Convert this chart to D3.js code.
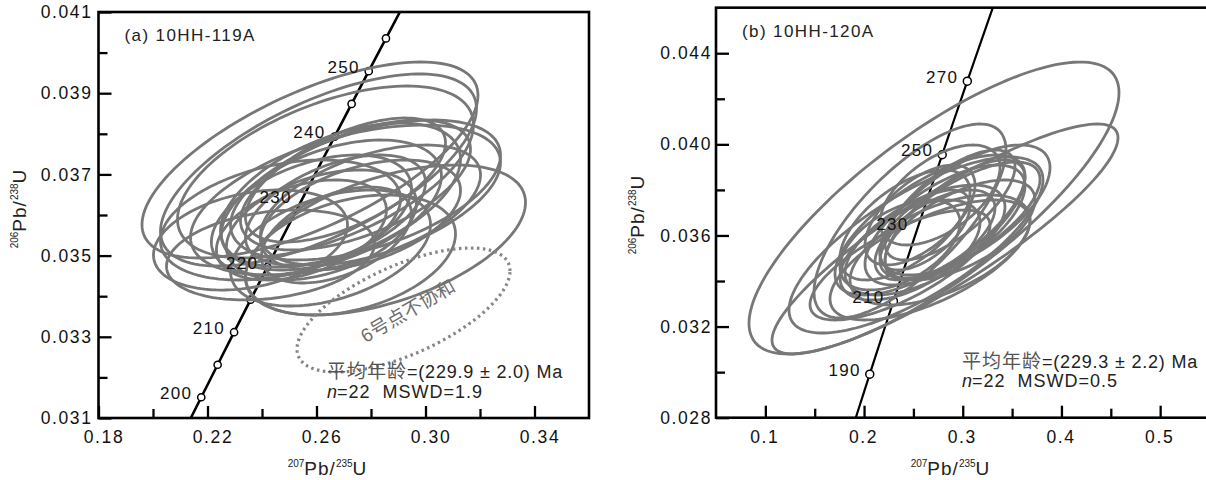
<!DOCTYPE html>
<html><head><meta charset="utf-8">
<script src="https://cdn.jsdelivr.net/npm/d3@7"></script>
<style>
body{margin:0;background:#fff;}
svg{display:block;}
text{font-family:"Liberation Sans",Arial,"Noto Sans CJK SC",sans-serif;}
</style></head><body>
<svg id="c" width="1206" height="480"></svg>
<script>
// ---- Concordia reference curve (age in Ma, 207Pb/235U, 206Pb/238U) ----
const concAge = [175,180,185,190,195,200,205,210,215,220,225,230,235,240,245,250,255,260,265,270,275,280,285,290,295];
const concX = [0.18809,0.19396,0.19985,0.20577,0.21173,0.21771,0.22372,0.22976,0.23583,0.24193,0.24806,0.25422,0.26041,0.26664,0.27289,0.27917,0.28549,0.29183,0.29821,0.30462,0.31106,0.31753,0.32403,0.33057,0.33714];
const concY = [0.027519,0.028316,0.029114,0.029912,0.030712,0.031511,0.032312,0.033113,0.033914,0.034717,0.035519,0.036323,0.037127,0.037932,0.038737,0.039543,0.040350,0.041157,0.041965,0.042773,0.043582,0.044392,0.045203,0.046014,0.046825];

// ---- Panel (a) 10HH-119A ----
const aTitle = "(a) 10HH-119A";
const aXMajor = [0.18,0.22,0.26,0.30,0.34];
const aXMajorLabels = ["0.18","0.22","0.26","0.30","0.34"];
const aXMinor = [0.20,0.24,0.28,0.32];
const aYMajor = [0.031,0.033,0.035,0.037,0.039,0.041];
const aYMajorLabels = ["0.031","0.033","0.035","0.037","0.039","0.041"];
const aYMinor = [0.032,0.034,0.036,0.038,0.040];
const aMarkAges = [200,205,210,215,220,240,245,250,255];   // visible age markers
const aLabelAges = [200,210,220,230,240,250];
const aCx  = [0.25761,0.26073,0.26330,0.27064,0.28532,0.23578,0.24312,0.27248,0.26514,0.27798,0.27431,0.26881,0.26547,0.25813,0.26697,0.26180,0.25446,0.27615,0.27064,0.24679,0.27982,0.26730];
const aCy  = [0.037355,0.037108,0.037059,0.036369,0.035384,0.035384,0.035015,0.035015,0.035187,0.036616,0.036739,0.036493,0.036246,0.036000,0.036123,0.035754,0.035631,0.036000,0.036862,0.035877,0.036246,0.035507];
const aSx  = [0.06165,0.05798,0.05431,0.05688,0.05138,0.03560,0.03817,0.03853,0.03670,0.04954,0.04220,0.04404,0.04037,0.03670,0.03303,0.03486,0.03119,0.03670,0.03670,0.04404,0.04037,0.02752];
const aSy  = [0.002414,0.002365,0.002118,0.001847,0.001847,0.001232,0.001108,0.001478,0.001429,0.001724,0.001601,0.001773,0.001601,0.001478,0.001355,0.001355,0.001232,0.001355,0.001527,0.001478,0.001478,0.001182];
const aRho = [0.66,0.64,0.55,0.50,0.50,0.30,0.25,0.35,0.40,0.50,0.55,0.50,0.45,0.45,0.50,0.40,0.40,0.45,0.60,0.35,0.50,0.45];
// discordant spot 6 (dotted)
const aRejCx = [0.29193], aRejCy = [0.03366], aRejSx = [0.03908], aRejSy = [0.001527], aRejRho = [0.63];
const aRejText = "6号点不协和";
const aStat1 = ["平均年龄", "=(229.9 ± 2.0) Ma"];
const aStat2 = ["n", "=22  MSWD=1.9"];

// ---- Panel (b) 10HH-120A ----
const bTitle = "(b) 10HH-120A";
const bXMajor = [0.1,0.2,0.3,0.4,0.5];
const bXMajorLabels = ["0.1","0.2","0.3","0.4","0.5"];
const bXMinor = [0.15,0.25,0.35,0.45];
const bYMajor = [0.028,0.032,0.036,0.040,0.044];
const bYMajorLabels = ["0.028","0.032","0.036","0.040","0.044"];
const bYMinor = [0.030,0.034,0.038,0.042];
const bMarkAges = [190,210,250,270];   // visible age markers
const bLabelAges = [190,210,230,250,270];
const bCx  = [0.27087,0.28202,0.25263,0.24656,0.26682,0.28202,0.26175,0.29215,0.24656,0.27188,0.29721,0.23642,0.27695,0.28708,0.25669,0.30228,0.24149,0.26682,0.27695,0.26175,0.29721,0.23642];
const bCy  = [0.037205,0.035845,0.035581,0.036635,0.036459,0.036459,0.035801,0.036679,0.035362,0.036020,0.036240,0.035581,0.035362,0.037337,0.036898,0.037118,0.036459,0.034923,0.037776,0.036240,0.036679,0.034703];
const bSx  = [0.18744,0.17528,0.12867,0.09726,0.09625,0.08105,0.08105,0.07092,0.07092,0.06079,0.07599,0.06079,0.09119,0.06586,0.05572,0.08612,0.06586,0.10132,0.06079,0.04559,0.08105,0.09119];
const bSy  = [0.006409,0.005048,0.003863,0.004258,0.003073,0.002634,0.002414,0.002634,0.002195,0.001975,0.002195,0.001975,0.002414,0.002414,0.002195,0.002853,0.002414,0.002634,0.002195,0.001756,0.002546,0.002414];
const bRho = [0.79,0.88,0.74,0.73,0.70,0.65,0.60,0.70,0.55,0.60,0.60,0.50,0.55,0.70,0.60,0.65,0.60,0.65,0.55,0.60,0.70,0.72];
const bStat1 = ["平均年龄", "=(229.3 ± 2.2) Ma"];
const bStat2 = ["n", "=22  MSWD=0.5"];

// ---------------------------------------------------------------
const svg = d3.select("#c");
const ELL = "#777777";
const N = 140;

function panel(o){
  const g = svg.append("g");
  const x = d3.scaleLinear().domain(o.xd).range(o.xr);
  const y = d3.scaleLinear().domain(o.yd).range(o.yr);
  const clipId = "clip" + o.id;
  svg.append("clipPath").attr("id", clipId).append("rect")
    .attr("x", o.xr[0]).attr("y", o.yr[1]).attr("width", o.xr[1]-o.xr[0]).attr("height", o.yr[0]-o.yr[1]);
  const plot = g.append("g").attr("clip-path", `url(#${clipId})`);

  // concordia
  const line = d3.line().x(d => x(d[0])).y(d => y(d[1]));
  const pts = concAge.map((a,i) => [concX[i], concY[i]]);
  plot.append("path").attr("d", line(pts)).attr("fill","none").attr("stroke","#000").attr("stroke-width", o.cw);
  const markers = o.marks.map(a => concAge.indexOf(a));
  plot.selectAll("circle.m").data(markers).join("circle")
    .attr("cx", i => x(concX[i])).attr("cy", i => y(concY[i])).attr("r", o.mr)
    .attr("fill","#fff").attr("stroke","#000").attr("stroke-width",1.5);

  // ellipses
  const ell = (cx,cy,sx,sy,r) => {
    const q = Math.sqrt(1 - r*r);
    const arr = d3.range(N).map(k => {
      const t = 2*Math.PI*k/N;
      return [cx + sx*Math.cos(t), cy + sy*(r*Math.cos(t) + q*Math.sin(t))];
    });
    return d3.line().x(d => x(d[0])).y(d => y(d[1])).curve(d3.curveLinearClosed)(arr);
  };
  o.cx.forEach((c,i) => {
    plot.append("path").attr("d", ell(c, o.cy[i], o.sx[i], o.sy[i], o.rho[i]))
      .attr("fill","none").attr("stroke", ELL).attr("stroke-width", 2.8);
  });
  if (o.rej) {
    o.rej.cx.forEach((c,i) => {
      plot.append("path").attr("d", ell(c, o.rej.cy[i], o.rej.sx[i], o.rej.sy[i], o.rej.rho[i]))
        .attr("fill","none").attr("stroke", "#858585").attr("stroke-width", 3.2)
        .attr("stroke-dasharray","2.5,3.5");
    });
  }

  // age labels
  o.labels.forEach(a => {
    const i = concAge.indexOf(a);
    g.append("text").attr("x", x(concX[i]) - 9).attr("y", y(concY[i]) + 1.5)
      .attr("text-anchor","end").attr("font-size", 17).attr("letter-spacing", 1.3)
      .attr("fill","#111").text(a);
  });

  // frame
  g.append("rect").attr("x", o.xr[0]).attr("y", o.yr[1]).attr("width", o.xr[1]-o.xr[0]).attr("height", o.yr[0]-o.yr[1])
    .attr("fill","none").attr("stroke","#000").attr("stroke-width", 2.6);

  // axes
  const ax = g.append("g").attr("transform", `translate(0,${o.yr[0]})`)
    .call(d3.axisBottom(x).tickValues(o.xMaj).tickFormat((d,i) => o.xLab[i]).tickSizeInner(-12).tickSizeOuter(0).tickPadding(13));
  const axm = g.append("g").attr("transform", `translate(0,${o.yr[0]})`)
    .call(d3.axisBottom(x).tickValues(o.xMin).tickFormat("").tickSizeInner(-9).tickSizeOuter(0));
  const ay = g.append("g").attr("transform", `translate(${o.xr[0]},0)`)
    .call(d3.axisLeft(y).tickValues(o.yMaj).tickFormat((d,i) => o.yLab[i]).tickSizeInner(-13).tickSizeOuter(0).tickPadding(o.yPad));
  const aym = g.append("g").attr("transform", `translate(${o.xr[0]},0)`)
    .call(d3.axisLeft(y).tickValues(o.yMin).tickFormat("").tickSizeInner(-9).tickSizeOuter(0));
  [ax,axm,ay,aym].forEach(s => {
    s.select(".domain").remove();
    s.selectAll("line").attr("stroke","#000").attr("stroke-width",2.3);
    s.selectAll("text").attr("font-size",17.5).attr("letter-spacing",1.6).attr("fill","#111")
      .attr("font-family",'"Liberation Sans",Arial,sans-serif');
  });
  ax.selectAll("text").attr("dx", o.xdx);

  // title
  g.append("text").attr("x", o.xr[0] + 26).attr("y", o.yr[1] + 29).attr("font-size",17)
    .attr("letter-spacing",1.4).attr("fill","#222").text(o.title);

  // axis titles
  const xt = g.append("text").attr("x", o.xtx).attr("y", 475).attr("text-anchor","middle").attr("fill","#222");
  xt.append("tspan").attr("font-size",10).attr("dy",-8).text("207");
  xt.append("tspan").attr("font-size",19).attr("dy",8).attr("letter-spacing",1).text("Pb/");
  xt.append("tspan").attr("font-size",10).attr("dy",-8).text("235");
  xt.append("tspan").attr("font-size",19).attr("dy",8).text("U");

  const yt = g.append("text").attr("transform", `translate(${o.ytx},${o.yty}) rotate(-90)`)
    .attr("text-anchor","middle").attr("fill","#222");
  yt.append("tspan").attr("font-size",10).attr("dy",-8).text("206");
  yt.append("tspan").attr("font-size",19).attr("dy",8).attr("letter-spacing",1).text("Pb/");
  yt.append("tspan").attr("font-size",10).attr("dy",-8).text("238");
  yt.append("tspan").attr("font-size",19).attr("dy",8).text("U");

  // statistics
  const s1 = g.append("text").attr("x", o.sx0).attr("y", o.sy0).attr("font-size",18).attr("fill","#222");
  s1.append("tspan").attr("fill","#555").attr("font-family",'"Noto Sans CJK SC",sans-serif').attr("font-size",19)
    .attr("letter-spacing",1).text(o.stat1[0]);
  s1.append("tspan").attr("letter-spacing",0.8).text(o.stat1[1]);
  const s2 = g.append("text").attr("x", o.sx0).attr("y", o.sy0 + o.sdy).attr("font-size",18).attr("fill","#222");
  s2.append("tspan").attr("font-style","italic").text(o.stat2[0]);
  s2.append("tspan").attr("letter-spacing",1).style("white-space","pre").text(o.stat2[1]);

  if (o.rejText) {
    g.append("text").attr("transform","translate(408,311) rotate(-30)").attr("text-anchor","middle")
      .attr("font-size",19).attr("fill","#6e6e6e").attr("font-family",'"Noto Sans CJK SC",sans-serif')
      .attr("dy","0.35em").text(o.rejText);
  }
}

panel({id:"a", xd:[0.18,0.36], xr:[98.5,589], yd:[0.031,0.041], yr:[418,12],
  cw:2.6, mr:3.6, marks:aMarkAges, labels:aLabelAges,
  cx:aCx, cy:aCy, sx:aSx, sy:aSy, rho:aRho,
  rej:{cx:aRejCx, cy:aRejCy, sx:aRejSx, sy:aRejSy, rho:aRejRho}, rejText:aRejText,
  xMaj:aXMajor, xLab:aXMajorLabels, xMin:aXMinor, yMaj:aYMajor, yLab:aYMajorLabels, yMin:aYMinor,
  yPad:6, xdx:5, title:aTitle, xtx:327, ytx:26, yty:209,
  stat1:aStat1, stat2:aStat2, sx0:327, sy0:378, sdy:20});

panel({id:"b", xd:[0.05,0.55], xr:[716,1209.5], yd:[0.028,0.046], yr:[417.7,7.66],
  cw:2.2, mr:4, marks:bMarkAges, labels:bLabelAges,
  cx:bCx, cy:bCy, sx:bSx, sy:bSy, rho:bRho, rej:null, rejText:null,
  xMaj:bXMajor, xLab:bXMajorLabels, xMin:bXMinor, yMaj:bYMajor, yLab:bYMajorLabels, yMin:bYMinor,
  yPad:4, xdx:-1, title:bTitle, xtx:950, ytx:644, yty:215,
  stat1:bStat1, stat2:bStat2, sx0:962, sy0:368, sdy:19});
</script>
</body></html>
